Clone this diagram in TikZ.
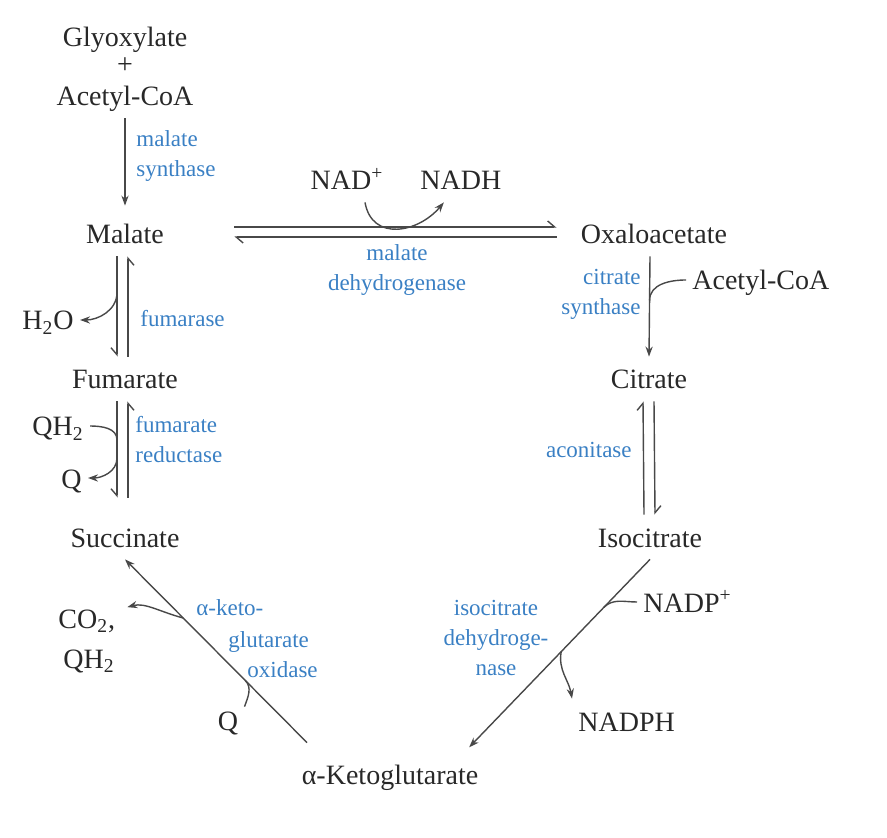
\documentclass[tikz,border=0pt]{standalone}
\usepackage{fontspec}
\setmainfont{Liberation Serif}
\usetikzlibrary{arrows.meta}
\definecolor{enzblue}{RGB}{58,128,196}
\definecolor{ink}{RGB}{40,40,40}
\tikzset{
  chem/.style={font=\fontsize{14}{16}\selectfont, text=ink, inner sep=3pt, text height=13pt, text depth=3pt},
  enz/.style={font=\fontsize{11.5}{15}\selectfont, text=enzblue, inner sep=0pt},
  rxn/.style={draw=ink!85, line width=0.7pt},
  fwd/.style={rxn, -{Stealth[length=5pt,width=3.6pt]}},
  barb/.style={rxn, -{Straight Barb[harpoon,length=3.5pt,width=6pt]}},
  barbswap/.style={rxn, -{Straight Barb[harpoon,swap,length=3.5pt,width=6pt]}}
}
\begin{document}
\begin{tikzpicture}[x=0.5pt,y=0.5pt]
    \useasboundingbox (0,0) rectangle (887,-838);
    % compounds
    \node[chem, anchor=base] (glyox) at (125,-47) {Glyoxylate};
    \node[chem, anchor=base, text height=8pt, text depth=0pt, inner sep=1pt] (plus) at (125,-74) {+};
    \node[chem, anchor=base] (acoa) at (125,-106) {Acetyl-CoA};
    \node[chem, anchor=base] (malate) at (125,-244) {Malate};
    \node[chem, anchor=base] (oaa) at (654,-244) {Oxaloacetate};
    \node[chem, anchor=base] (fum) at (125,-389) {Fumarate};
    \node[chem, anchor=base] (cit) at (649,-389) {Citrate};
    \node[chem, anchor=base] (succ) at (125,-547) {Succinate};
    \node[chem, anchor=base] (isocit) at (650,-547) {Isocitrate};
    \node[chem, anchor=base] (akg) at (390,-784) {α-Ketoglutarate};
    % cofactors
    \node[chem, anchor=base] (nad) at (347,-190) {NAD\textsuperscript{+}};
    \node[chem, anchor=base west] (nadh) at (414,-190) {NADH};
    \node[chem, anchor=base west] (acoab) at (686,-290) {Acetyl-CoA};
    \node[chem, anchor=base west] (water) at (16,-330) {H\textsubscript{2}O};
    \node[chem, anchor=base west] (qhtwoa) at (26,-436) {QH\textsubscript{2}};
    \node[chem, anchor=base east] (qa) at (88,-488) {Q};
    \node[chem, anchor=base west] (co) at (52,-628) {CO\textsubscript{2},};
    \node[chem, anchor=base west] (qhtwob) at (57,-668) {QH\textsubscript{2}};
    \node[chem, anchor=base] (qb) at (228,-730) {Q};
    \node[chem, anchor=base west] (nadp) at (637,-612) {NADP\textsuperscript{+}};
    \node[chem, anchor=base west] (nadph) at (572,-731) {NADPH};
    % enzymes (base = last line)
    \node[enz, anchor=base west, align=left] (msyn) at (136,-177) {malate\\synthase};
    \node[enz, anchor=base, align=center] (mdh) at (397,-291) {malate\\dehydrogenase};
    \node[enz, anchor=base east, align=right] (csyn) at (641,-315) {citrate\\synthase};
    \node[enz, anchor=base west] (fumase) at (140,-327) {fumarase};
    \node[enz, anchor=base west, align=left] (fred) at (135,-463) {fumarate\\reductase};
    \node[enz, anchor=base east] (acon) at (632,-458) {aconitase};
    \node[enz, anchor=base, align=center] (idh) at (496,-675) {isocitrate\\dehydroge-\\nase};
    \node[enz, anchor=base west] (kgoa) at (196,-615) {α-keto-};
    \node[enz, anchor=base west] (kgob) at (228,-647) {glutarate};
    \node[enz, anchor=base west] (kgoc) at (247,-677) {oxidase};
    % reactions
    \draw[fwd, shorten >=3pt] (acoa) -- (malate);
    \draw[barb, shorten <=32pt, shorten >=9pt] ([yshift=3.5pt]malate.east) -- ([yshift=3.5pt]oaa.west);
    \draw[barb, shorten <=9pt, shorten >=32pt] ([yshift=-1.5pt]oaa.west) -- ([yshift=-1.5pt]malate.east);
    \draw[fwd] ([xshift=9pt]nad.south) to[out=-80,in=-130,looseness=1.3] ([xshift=-8.5pt]nadh.south);
    \draw[barbswap] ([xshift=-4pt]malate.south) -- coordinate[pos=.36] (hj) ([xshift=-4pt]fum.north);
    \draw[barbswap] ([xshift=1.5pt]fum.north) -- ([xshift=1.5pt]malate.south);
    \draw[fwd] (hj) to[out=270,in=0] (water);
    \draw[barbswap, shorten >=8.5pt] ([xshift=-4pt]fum.south) -- coordinate[pos=.34] (qja) coordinate[pos=.5] (qjb) ([xshift=-4pt]succ.north);
    \draw[barbswap, shorten <=8.5pt] ([xshift=1.5pt]succ.north) -- ([xshift=1.5pt]fum.south);
    \draw[rxn] (qhtwoa) to[out=0,in=90] (qja);
    \draw[fwd] (qjb) to[out=270,in=0] (qa);
    \draw[fwd] ([xshift=-2pt]oaa.south) -- coordinate[pos=.44] (cj) (cit.north);
    \draw[rxn] (acoab) to[out=180,in=90] (cj);
    \draw[barb] ([xshift=-3pt]isocit.north) -- ([xshift=-3pt]cit.south);
    \draw[barb] ([xshift=2.5pt]cit.south) -- ([xshift=2.5pt]isocit.north);
    \draw[fwd, shorten >=3pt] (isocit.south) -- coordinate[pos=.25] (ija) coordinate[pos=.48] (ijb) ([xshift=37.5pt]akg.north);
    \draw[rxn] (nadp) to[out=180,in=45] (ija);
    \draw[fwd] (ijb) to[out=260,in=100] (nadph.north west);
    \draw[fwd] ([xshift=-41.5pt,yshift=4.5pt]akg.north) -- coordinate[pos=.34] (kjb) coordinate[pos=.68] (kja) (succ.south);
    \draw[fwd, shorten >=3pt] (kja) to[out=165,in=15] (co);
    \draw[rxn] ([yshift=-4.5pt]qb.north east) to[out=70,in=315] (kjb);
\end{tikzpicture}
\end{document}
